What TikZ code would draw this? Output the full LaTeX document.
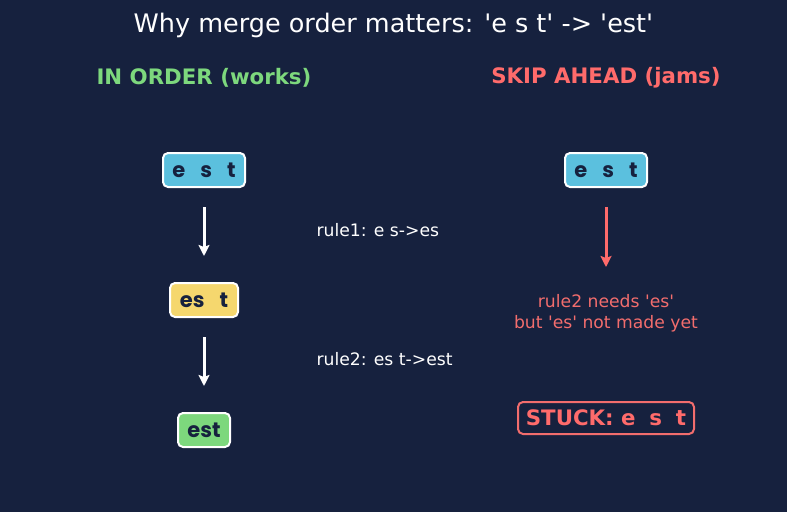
\documentclass[tikz,border=0pt]{standalone}
\usepackage{fontspec}
\setmainfont{DejaVu Sans}
\newfontfamily\boxfont{Poppins}
\usetikzlibrary{arrows.meta}
\definecolor{bg}{HTML}{16213E}
\definecolor{cyanbox}{HTML}{5BC0DE}
\definecolor{yelbox}{HTML}{F5D76E}
\definecolor{grnbox}{HTML}{7DD87D}
\definecolor{redc}{HTML}{FF6B6B}
\definecolor{redt}{HTML}{F26D6D}
\definecolor{ink}{HTML}{16213E}
\newcommand{\q}{\textquotesingle}
\tikzset{
  tok/.style={draw=white, line width=2pt, rounded corners=5pt, minimum height=34pt, inner xsep=6pt,
    font=\boxfont\bfseries\fontsize{21}{24}\selectfont, text=ink},
  flow/.style={-{Stealth[length=11pt,width=11pt,inset=2pt]}, line width=3pt},
  lbl/.style={font=\fontsize{17.2}{20}\selectfont, text=white, anchor=west},
}
\begin{document}
\begin{tikzpicture}[x=1pt,y=-1pt]
\fill[bg] (0,0) rectangle (787,512);
\useasboundingbox (0,0) rectangle (787,512);
\node (title) at (393.5,25) [text=white, font=\fontsize{25.5}{30}\selectfont] {Why merge order matters: \q e s t\q{} -> \q est\q};
\node (hl) at (204,78) [text=grnbox, font=\bfseries\fontsize{21.3}{25}\selectfont] {IN ORDER (works)};
\node (hr) at (606,78) [text=redc, font=\bfseries\fontsize{21.3}{25}\selectfont] {SKIP AHEAD (jams)};

\node[tok, fill=cyanbox, minimum width=82pt] (a1) at (204,170) {e\hspace{0.72em}s\hspace{0.72em}t};
\node[tok, fill=yelbox, minimum width=68pt] (a2) at (204,300) {es\hspace{0.72em}t};
\node[tok, fill=grnbox, minimum width=52pt] (a3) at (204,430) {est};

\coordinate (s1) at (204,207); \coordinate (e1) at (204,256);
\coordinate (s2) at (204,337); \coordinate (e2) at (204,386);
\draw[flow, white] (s1) -- (e1);
\draw[flow, white] (s2) -- (e2);
\node[lbl] (r1) at (313,230) {rule1: e s->es};
\node[lbl] (r2) at (313,359) {rule2: es t->est};

\node[tok, fill=cyanbox, minimum width=82pt] (b1) at (606,170) {e\hspace{0.72em}s\hspace{0.72em}t};
\coordinate (s3) at (606,207); \coordinate (e3) at (606,267);
\draw[flow, redc] (s3) -- (e3);
\node (note) at (606,313) [text=redt, align=center, font=\fontsize{17.2}{21.5}\selectfont] {rule2 needs \q es\q\\but \q es\q{} not made yet};
\node (stuck) at (606,418) [draw=redt, line width=2pt, rounded corners=5pt, minimum width=176pt, minimum height=32pt, text=redc, font=\bfseries\fontsize{21.3}{25}\selectfont] {STUCK: e\hspace{0.65em}s\hspace{0.65em}t};
\end{tikzpicture}
\end{document}
